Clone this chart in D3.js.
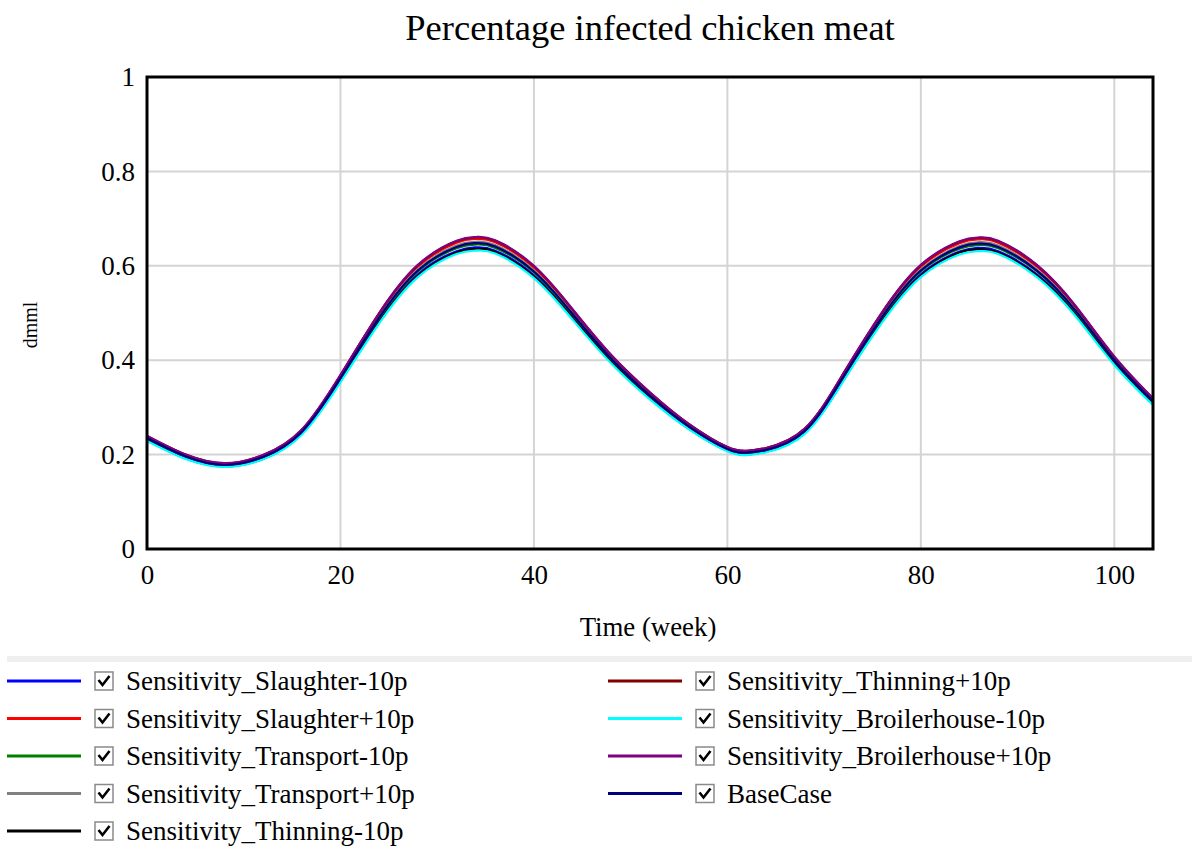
<!DOCTYPE html>
<html>
<head>
<meta charset="utf-8">
<script src="https://cdn.jsdelivr.net/npm/d3@7"></script>
<style>
  body { margin: 0; background: #fff; }
  svg { font-family: "Liberation Serif", "Times New Roman", serif; }
</style>
</head>
<body>
<div id="chart"></div>
<script>
const width = 1192;
const height = 848;
const margin = { top: 77, right: 39, bottom: 299, left: 147 };

const weeks = [0, 4, 8, 12, 16, 20, 24, 28, 32, 34, 36, 40, 44, 48, 52, 56, 60, 62, 64, 68, 72, 76, 80, 84, 86, 88, 92, 96, 100, 104];

const slaughterMinus = [0.232, 0.193, 0.176, 0.192, 0.245, 0.357, 0.483, 0.582, 0.631, 0.639, 0.632, 0.580, 0.491, 0.397, 0.320, 0.256, 0.209, 0.201, 0.207, 0.247, 0.360, 0.485, 0.582, 0.630, 0.638, 0.631, 0.582, 0.498, 0.394, 0.309];
const slaughterPlus = [0.238, 0.199, 0.180, 0.198, 0.251, 0.367, 0.497, 0.598, 0.649, 0.657, 0.650, 0.596, 0.505, 0.409, 0.330, 0.264, 0.215, 0.207, 0.213, 0.254, 0.370, 0.499, 0.598, 0.648, 0.656, 0.649, 0.598, 0.512, 0.406, 0.317];
const transportMinus = [0.234, 0.195, 0.177, 0.194, 0.247, 0.361, 0.488, 0.588, 0.637, 0.645, 0.638, 0.586, 0.496, 0.401, 0.324, 0.259, 0.211, 0.203, 0.209, 0.249, 0.364, 0.490, 0.588, 0.636, 0.644, 0.637, 0.588, 0.503, 0.398, 0.312];
const transportPlus = [0.236, 0.197, 0.179, 0.196, 0.249, 0.363, 0.492, 0.592, 0.643, 0.651, 0.644, 0.590, 0.500, 0.405, 0.326, 0.261, 0.213, 0.205, 0.211, 0.251, 0.366, 0.494, 0.592, 0.642, 0.650, 0.643, 0.592, 0.507, 0.402, 0.314];
const thinningMinus = [0.231, 0.192, 0.175, 0.191, 0.244, 0.356, 0.481, 0.579, 0.628, 0.636, 0.629, 0.577, 0.489, 0.396, 0.319, 0.255, 0.208, 0.200, 0.206, 0.246, 0.358, 0.483, 0.579, 0.628, 0.635, 0.628, 0.579, 0.496, 0.393, 0.307];
const thinningPlus = [0.239, 0.200, 0.181, 0.199, 0.252, 0.368, 0.499, 0.601, 0.652, 0.660, 0.653, 0.599, 0.507, 0.410, 0.331, 0.265, 0.216, 0.208, 0.214, 0.255, 0.372, 0.501, 0.601, 0.651, 0.659, 0.652, 0.601, 0.514, 0.407, 0.319];
const broilerMinus = [0.229, 0.191, 0.174, 0.190, 0.242, 0.353, 0.478, 0.576, 0.625, 0.632, 0.626, 0.574, 0.486, 0.393, 0.317, 0.254, 0.207, 0.199, 0.205, 0.244, 0.356, 0.480, 0.576, 0.624, 0.631, 0.625, 0.576, 0.493, 0.390, 0.305];
const broilerPlus = [0.240, 0.200, 0.182, 0.199, 0.253, 0.369, 0.500, 0.602, 0.653, 0.661, 0.654, 0.600, 0.508, 0.411, 0.332, 0.265, 0.216, 0.208, 0.214, 0.255, 0.372, 0.502, 0.602, 0.652, 0.660, 0.653, 0.602, 0.515, 0.408, 0.319];
const baseCase = [0.235, 0.196, 0.178, 0.195, 0.248, 0.362, 0.490, 0.590, 0.640, 0.648, 0.641, 0.588, 0.498, 0.403, 0.325, 0.260, 0.212, 0.204, 0.210, 0.250, 0.365, 0.492, 0.590, 0.639, 0.647, 0.640, 0.590, 0.505, 0.400, 0.313];

const seriesNames = [
  "Sensitivity_Slaughter-10p",
  "Sensitivity_Slaughter+10p",
  "Sensitivity_Transport-10p",
  "Sensitivity_Transport+10p",
  "Sensitivity_Thinning-10p",
  "Sensitivity_Thinning+10p",
  "Sensitivity_Broilerhouse-10p",
  "Sensitivity_Broilerhouse+10p",
  "BaseCase",
];
const seriesValues = [slaughterMinus, slaughterPlus, transportMinus, transportPlus, thinningMinus, thinningPlus, broilerMinus, broilerPlus, baseCase];
const seriesColors = ["#0000ff", "#ff0000", "#008000", "#808080", "#000000", "#800000", "#00ffff", "#800080", "#000080"];

const xTicks = [0, 20, 40, 60, 80, 100];
const yTicks = [0, 0.2, 0.4, 0.6, 0.8, 1];

const innerW = width - margin.left - margin.right;
const innerH = height - margin.top - margin.bottom;

const svg = d3
  .select("#chart")
  .append("svg")
  .attr("width", width)
  .attr("height", height);

// Title
svg
  .append("text")
  .attr("x", 650)
  .attr("y", 40)
  .attr("text-anchor", "middle")
  .style("font-size", "36.5px")
  .text("Percentage infected chicken meat");

const g = svg.append("g").attr("transform", `translate(${margin.left},${margin.top})`);

const x = d3.scaleLinear().domain([0, 104]).range([0, innerW]);
const y = d3.scaleLinear().domain([0, 1]).range([innerH, 0]);

// Grid
g.append("g")
  .selectAll("line")
  .data(xTicks.filter((d) => d > 0))
  .enter()
  .append("line")
  .attr("x1", (d) => x(d))
  .attr("x2", (d) => x(d))
  .attr("y1", 0)
  .attr("y2", innerH)
  .attr("stroke", "#d4d4d4")
  .attr("stroke-width", 2);

g.append("g")
  .selectAll("line")
  .data(yTicks.filter((d) => d > 0 && d < 1))
  .enter()
  .append("line")
  .attr("x1", 0)
  .attr("x2", innerW)
  .attr("y1", (d) => y(d))
  .attr("y2", (d) => y(d))
  .attr("stroke", "#d4d4d4")
  .attr("stroke-width", 2);

// Lines
const line = d3
  .line()
  .x((d, i) => x(weeks[i]))
  .y((d) => y(d))
  .curve(d3.curveNatural);

seriesValues.forEach((vals, i) => {
  g.append("path")
    .datum(vals)
    .attr("fill", "none")
    .attr("stroke", seriesColors[i])
    .attr("stroke-width", 2.2)
    .attr("d", line);
});

// Frame
g.append("rect")
  .attr("x", 0)
  .attr("y", 0)
  .attr("width", innerW)
  .attr("height", innerH)
  .attr("fill", "none")
  .attr("stroke", "#000")
  .attr("stroke-width", 3);

// Axes
const xAxis = g
  .append("g")
  .attr("transform", `translate(0,${innerH})`)
  .call(d3.axisBottom(x).tickValues(xTicks).tickSize(0).tickPadding(16).tickFormat(d3.format("d")));
xAxis.select(".domain").remove();
xAxis.selectAll("text").style("font-size", "27px").style("font-family", "Liberation Serif").attr("fill", "#000");

const yAxis = g
  .append("g")
  .call(d3.axisLeft(y).tickValues(yTicks).tickSize(0).tickPadding(12).tickFormat(d3.format("~g")));
yAxis.select(".domain").remove();
yAxis.selectAll("text").style("font-size", "27px").style("font-family", "Liberation Serif").attr("fill", "#000");

// Axis titles
svg
  .append("text")
  .attr("x", 648)
  .attr("y", 636)
  .attr("text-anchor", "middle")
  .style("font-size", "26.8px")
  .text("Time (week)");

svg
  .append("text")
  .attr("transform", "translate(37,325) rotate(-90)")
  .attr("text-anchor", "middle")
  .style("font-size", "20px")
  .text("dmml");

// Legend
svg
  .append("rect")
  .attr("x", 7)
  .attr("y", 656)
  .attr("width", 1185)
  .attr("height", 6)
  .attr("fill", "#efefef");

const legend = svg
  .selectAll(".legend")
  .data(seriesNames)
  .enter()
  .append("g")
  .attr("class", "legend")
  .attr("transform", (d, i) => {
    const col = i < 5 ? 0 : 1;
    const row = i < 5 ? i : i - 5;
    return `translate(${col === 0 ? 7 : 608},${681 + row * 37.5})`;
  });

legend
  .append("line")
  .attr("x1", 0)
  .attr("x2", 74)
  .attr("y1", 0)
  .attr("y2", 0)
  .attr("stroke", (d, i) => seriesColors[i])
  .attr("stroke-width", 3);

legend
  .append("rect")
  .attr("x", 88)
  .attr("y", -9)
  .attr("width", 18)
  .attr("height", 18)
  .attr("fill", "#fff")
  .attr("stroke", "#8a8a8a")
  .attr("stroke-width", 1.5);

legend
  .append("path")
  .attr("d", "M91.5,-1 L95.5,4 L102.5,-5")
  .attr("fill", "none")
  .attr("stroke", "#000")
  .attr("stroke-width", 2.6);

legend
  .append("text")
  .attr("x", 119)
  .attr("y", 0)
  .attr("dy", "0.35em")
  .style("font-size", "27px")
  .text((d) => d);
</script>
</body>
</html>
